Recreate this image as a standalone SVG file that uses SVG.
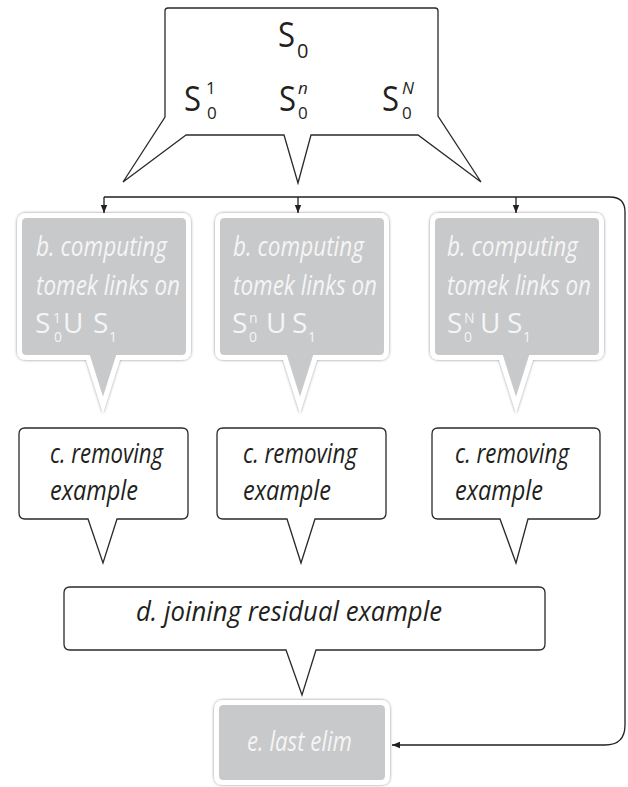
<svg xmlns="http://www.w3.org/2000/svg" width="628" height="787" viewBox="0 0 628 787">
<style>
.call{fill:#fff;stroke:#2a2a2a;stroke-width:1.3;stroke-linejoin:miter}
.gbox{fill:#c8c9cb;stroke:#fff;stroke-width:5;stroke-linejoin:miter;stroke-miterlimit:10}
.wt{font-family:"Open Sans","Noto Sans",sans-serif;font-style:italic;fill:#f5f5f5;font-size:27px}
.ws{font-family:"Open Sans","Noto Sans",sans-serif;fill:#f5f5f5}
.bt{font-family:"Open Sans","Noto Sans",sans-serif;font-style:italic;fill:#231f20;font-size:27px}
.st{font-family:"Open Sans","Noto Sans",sans-serif;fill:#231f20}
.conn{fill:none;stroke:#231f20;stroke-width:1.3}
</style>
<defs>
<filter id="sh" x="-10%" y="-10%" width="120%" height="125%">
<feDropShadow dx="0" dy="0" stdDeviation="1.6" flood-color="#000" flood-opacity="0.45"/>
</filter>
<marker id="ah" viewBox="0 0 10 10" refX="10" refY="5" markerWidth="8" markerHeight="8" markerUnits="userSpaceOnUse" orient="auto">
<path d="M0,1 L10,5 L0,9 Z" fill="#231f20"/>
</marker>
</defs>

<g id="connectors">
<path class="conn" d="M104,197 H610 Q625,197 625,212 V725 Q625,745 605,745 H392" marker-end="url(#ah)"/>
<path class="conn" d="M104,197 V213" marker-end="url(#ah)"/>
<path class="conn" d="M298,197 V213" marker-end="url(#ah)"/>
<path class="conn" d="M516,197 V213" marker-end="url(#ah)"/>
</g>

<g id="a-S0">
<path class="call" d="M186,135 L123,182 L165,117 V11 Q165,8 168,8 H435 Q438,8 438,11 V116 L481,182 L418,135 H311 L298,183 L284,135 Z"/>
<text class="st" font-size="34" x="278" y="47" textLength="17" lengthAdjust="spacingAndGlyphs">S</text>
<text class="st" font-size="20" x="297" y="58">0</text>
<text class="st" font-size="34" x="184" y="111" textLength="17" lengthAdjust="spacingAndGlyphs">S</text>
<text class="st" font-size="17" x="206" y="94">1</text>
<text class="st" font-size="17" x="207" y="119">0</text>
<text class="st" font-size="34" x="279" y="111" textLength="17" lengthAdjust="spacingAndGlyphs">S</text>
<text class="st" font-size="17" x="298" y="94" font-style="italic">n</text>
<text class="st" font-size="17" x="298" y="119">0</text>
<text class="st" font-size="34" x="382" y="111" textLength="17" lengthAdjust="spacingAndGlyphs">S</text>
<text class="st" font-size="17" x="402" y="94" font-style="italic">N</text>
<text class="st" font-size="17" x="402" y="119">0</text>
</g>

<g id="b1" transform="translate(17,213)">
<path class="gbox" filter="url(#sh)" d="M9.5,2.5 H164.5 Q171.5,2.5 171.5,9.5 V137.5 Q171.5,144.5 164.5,144.5 H101 L86,192 L71,144.5 H9.5 Q2.5,144.5 2.5,137.5 V9.5 Q2.5,2.5 9.5,2.5 Z"/>
<text class="wt" x="19" y="43" textLength="131" lengthAdjust="spacingAndGlyphs">b. computing</text>
<text class="wt" x="19" y="82" textLength="144" lengthAdjust="spacingAndGlyphs">tomek links on</text>
<text class="ws" font-size="28" x="18" y="120">S</text>
<text class="ws" font-size="14" x="36" y="110">1</text>
<text class="ws" font-size="14" x="37" y="129">0</text>
<text class="ws" font-size="28" x="46" y="120">U</text>
<text class="ws" font-size="28" x="76" y="120">S</text>
<text class="ws" font-size="14" x="92" y="129">1</text>
</g>

<g id="b2" transform="translate(215,213)">
<path class="gbox" filter="url(#sh)" d="M9.5,2.5 H164.5 Q171.5,2.5 171.5,9.5 V137.5 Q171.5,144.5 164.5,144.5 H100 L85,192 L70,144.5 H9.5 Q2.5,144.5 2.5,137.5 V9.5 Q2.5,2.5 9.5,2.5 Z"/>
<text class="wt" x="18" y="43" textLength="131" lengthAdjust="spacingAndGlyphs">b. computing</text>
<text class="wt" x="18" y="82" textLength="144" lengthAdjust="spacingAndGlyphs">tomek links on</text>
<text class="ws" font-size="28" x="17" y="120">S</text>
<text class="ws" font-size="14" x="34" y="110">n</text>
<text class="ws" font-size="14" x="34" y="129">0</text>
<text class="ws" font-size="28" x="51" y="120">U</text>
<text class="ws" font-size="28" x="77" y="120">S</text>
<text class="ws" font-size="14" x="93" y="129">1</text>
</g>

<g id="b3" transform="translate(430,213)">
<path class="gbox" filter="url(#sh)" d="M9.5,2.5 H164.5 Q171.5,2.5 171.5,9.5 V137.5 Q171.5,144.5 164.5,144.5 H101 L86,192 L71,144.5 H9.5 Q2.5,144.5 2.5,137.5 V9.5 Q2.5,2.5 9.5,2.5 Z"/>
<text class="wt" x="17" y="43" textLength="131" lengthAdjust="spacingAndGlyphs">b. computing</text>
<text class="wt" x="17" y="82" textLength="144" lengthAdjust="spacingAndGlyphs">tomek links on</text>
<text class="ws" font-size="28" x="17" y="120">S</text>
<text class="ws" font-size="14" x="34" y="110">N</text>
<text class="ws" font-size="14" x="34" y="129">0</text>
<text class="ws" font-size="28" x="50" y="120">U</text>
<text class="ws" font-size="28" x="77" y="120">S</text>
<text class="ws" font-size="14" x="93" y="129">1</text>
</g>

<g id="c1" transform="translate(19,428)">
<path class="call" d="M6,0 H163 Q169,0 169,6 V85 Q169,91 163,91 H98 L84,135 L69,91 H6 Q0,91 0,85 V6 Q0,0 6,0 Z"/>
<text class="bt" x="31" y="35" textLength="113" lengthAdjust="spacingAndGlyphs">c. removing</text>
<text class="bt" x="31" y="72" textLength="88" lengthAdjust="spacingAndGlyphs">example</text>
</g>

<g id="c2" transform="translate(217,428)">
<path class="call" d="M6,0 H163 Q169,0 169,6 V85 Q169,91 163,91 H98 L84,135 L70,91 H6 Q0,91 0,85 V6 Q0,0 6,0 Z"/>
<text class="bt" x="26" y="35" textLength="114" lengthAdjust="spacingAndGlyphs">c. removing</text>
<text class="bt" x="26" y="72" textLength="88" lengthAdjust="spacingAndGlyphs">example</text>
</g>

<g id="c3" transform="translate(432,428)">
<path class="call" d="M6,0 H162 Q168,0 168,6 V85 Q168,91 162,91 H96 L84,135 L68,91 H6 Q0,91 0,85 V6 Q0,0 6,0 Z"/>
<text class="bt" x="23" y="35" textLength="114" lengthAdjust="spacingAndGlyphs">c. removing</text>
<text class="bt" x="23" y="72" textLength="88" lengthAdjust="spacingAndGlyphs">example</text>
</g>

<g id="d">
<path class="call" d="M70,587 H539 Q545,587 545,593 V644 Q545,650 539,650 H316 L302,695 L286,650 H70 Q64,650 64,644 V593 Q64,587 70,587 Z"/>
<text class="bt" x="136" y="621" textLength="306" lengthAdjust="spacingAndGlyphs">d. joining residual example</text>
</g>

<g id="e">
<path class="gbox" filter="url(#sh)" d="M223.5,702.5 H380.5 Q387.5,702.5 387.5,709.5 V775.5 Q387.5,782.5 380.5,782.5 H223.5 Q216.5,782.5 216.5,775.5 V709.5 Q216.5,702.5 223.5,702.5 Z"/>
<text class="wt" x="247" y="751" textLength="105" lengthAdjust="spacingAndGlyphs">e. last elim</text>
</g>
</svg>
